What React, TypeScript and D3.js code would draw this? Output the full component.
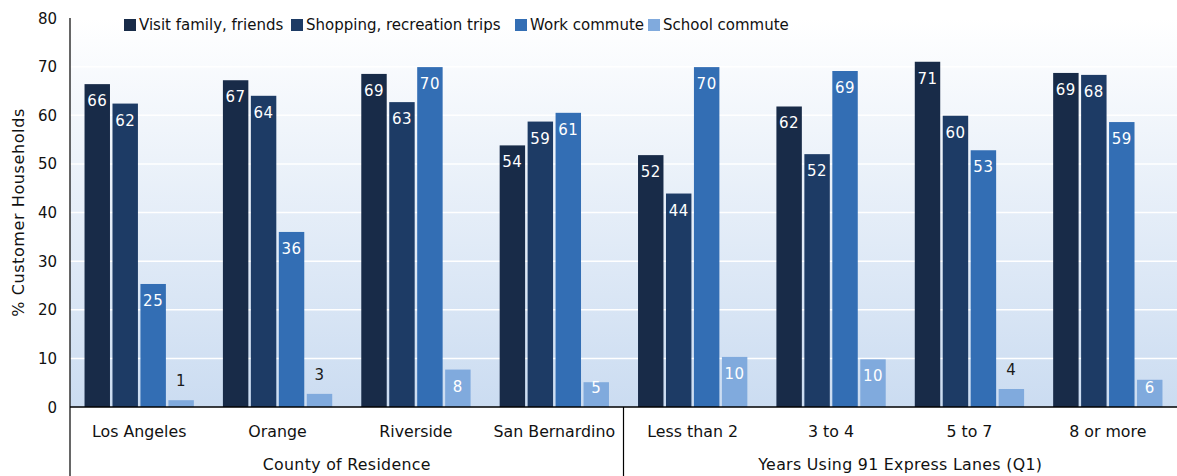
import React from "react";
import * as d3 from "d3";

const categories = ["Los Angeles", "Orange", "Riverside", "San Bernardino", "Less than 2", "3 to 4", "5 to 7", "8 or more"];
const groups = ["County of Residence", "Years Using 91 Express Lanes (Q1)"];
const groupSizes = [4, 4];
const seriesNames = ["Visit family, friends", "Shopping, recreation trips", "Work commute", "School commute"];
const visitFamily = [66.4, 67.2, 68.5, 53.8, 51.8, 61.8, 71.0, 68.7];
const shopping = [62.4, 64.0, 62.7, 58.7, 43.9, 52.0, 59.9, 68.3];
const workCommute = [25.3, 36.0, 69.9, 60.5, 69.9, 69.1, 52.8, 58.6];
const schoolCommute = [1.4, 2.7, 7.7, 5.1, 10.3, 9.8, 3.7, 5.6];
const yTicks = [0, 10, 20, 30, 40, 50, 60, 70, 80];
const seriesColors = ["#182b48", "#1d3b65", "#336eb4", "#80aadd"];

export default function App() {
  const W = 1177, H = 476;
  const left = 70, right = 1177, top = 18, bottom = 407;
  const series = [visitFamily, shopping, workCommute, schoolCommute];
  const x = d3.scaleBand<string>().domain(categories).range([left, right]).paddingInner(0.21).paddingOuter(0.105);
  const xInner = d3.scaleBand<string>().domain(seriesNames).range([0, x.bandwidth()]).paddingInner(0.09);
  const y = d3.scaleLinear().domain([0, 80]).range([bottom, top]);
  const step = (right - left) / categories.length;
  const font = "'DejaVu Sans', Verdana, sans-serif";
  const legendX = [124, 291, 515, 648];

  let acc = 0;
  const groupSpans = groupSizes.map((n) => {
    const s = acc;
    acc += n;
    return [left + s * step, left + acc * step];
  });

  return (
    <svg width={W} height={H} style={{ position: "absolute", left: 0, top: 0, background: "#fff" }} fontFamily={font}>
      <defs>
        <linearGradient id="bg" x1="0" y1="0" x2="0" y2="1">
          <stop offset="0" stopColor="#ffffff" />
          <stop offset="1" stopColor="#cbdcf1" />
        </linearGradient>
      </defs>
      <rect x={left} y={top} width={right - left} height={bottom - top} fill="url(#bg)" />
      {yTicks.filter((t) => t > 0).map((t) => (
        <line key={t} x1={left} x2={right} y1={y(t)} y2={y(t)} stroke="#fff" strokeWidth={1.5} />
      ))}
      {yTicks.map((t) => (
        <text key={t} x={57} y={y(t) + 5.5} textAnchor="end" fontSize={15} fill="#111">{t}</text>
      ))}
      <text transform={`translate(24,${(top + bottom) / 2}) rotate(-90)`} textAnchor="middle" fontSize={16} letterSpacing={0.6} fill="#111">% Customer Households</text>
      {categories.map((c, i) => (
        <g key={c} transform={`translate(${x(c)},0)`}>
          {series.map((vals, s) => {
            const v = vals[i];
            const bx = xInner(seriesNames[s])!;
            const bw = xInner.bandwidth();
            const yt = y(v);
            const h = bottom - yt;
            const inside = h >= 24;
            const ly = inside ? Math.min(yt + 22, bottom - 14) : yt - 14;
            return (
              <g key={s}>
                <rect x={bx} y={yt} width={bw} height={h} fill={seriesColors[s]} />
                <text x={bx + bw / 2} y={ly} textAnchor="middle" fontSize={15} fill={inside ? "#fff" : "#1a1a1a"} letterSpacing={0.5}>{Math.round(v)}</text>
              </g>
            );
          })}
          <text x={x.bandwidth() / 2} y={437} textAnchor="middle" fontSize={15.8} fill="#111">{c}</text>
        </g>
      ))}
      {groupSpans.map(([a, b], i) => (
        <text key={groups[i]} x={(a + b) / 2} y={470} textAnchor="middle" fontSize={15.8} letterSpacing={0.3} fill="#111">{groups[i]}</text>
      ))}
      <line x1={left} x2={right} y1={bottom} y2={bottom} stroke="#000" strokeWidth={1.5} />
      <line x1={left} x2={left} y1={top} y2={H} stroke="#000" strokeWidth={1.2} />
      {groupSpans.slice(0, -1).map(([, b], i) => (
        <line key={i} x1={b} x2={b} y1={bottom} y2={H} stroke="#000" strokeWidth={1.2} />
      ))}
      {seriesNames.map((n, i) => (
        <g key={n}>
          <rect x={legendX[i]} y={19} width={12} height={12} fill={seriesColors[i]} />
          <text x={legendX[i] + 15} y={30} fontSize={15} fill="#111">{n}</text>
        </g>
      ))}
    </svg>
  );
}
